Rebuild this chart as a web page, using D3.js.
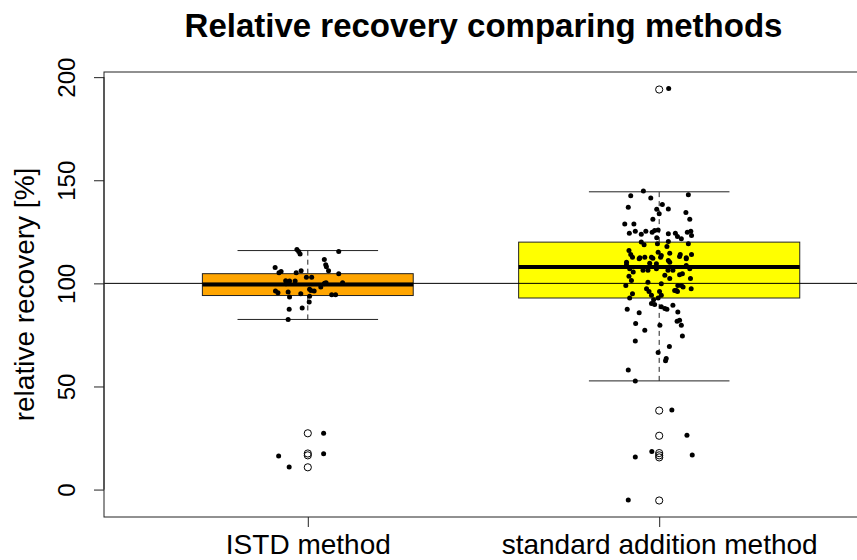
<!DOCTYPE html>
<html>
<head>
<meta charset="utf-8">
<script src="https://cdn.jsdelivr.net/npm/d3@7"></script>
<style>
  body { margin: 0; background: #fff; }
  text { font-family: "Liberation Sans", Arial, sans-serif; fill: #000; }
</style>
</head>
<body>
<div id="chart"></div>
<script>
// groups and box statistics: [lower whisker, Q1, median, Q3, upper whisker]
var groups = ["ISTD method", "standard addition method"];
var istdStats = [82.5, 94.1, 99.4, 104.7, 115.9];
var stdStats = [52.7, 92.9, 107.9, 120.0, 144.4];
var istdOutliers = [27.3, 17.5, 16.6, 10.8];
var stdOutliers = [194.0, 38.3, 26.1, 17.7, 16.6, 15.6, -5.3];
var yTicks = [0, 50, 100, 150, 200];
var refValue = 100;

// jittered raw points: [jittered group position, relative recovery]
var istdPoints = [
  [0.969,116.4],[0.974,115.5],[0.978,114.2],[1.088,115.5],[0.907,107.7],[0.918,105.2],[0.924,105.8],
  [1.047,111.6],[1.051,109.0],[1.053,108.1],[1.059,106.1],[0.967,105.2],[0.981,106.1],[1.088,104.7],
  [0.996,103.0],[1.011,103.0],[0.937,101.3],[0.948,101.1],[0.964,101.1],[0.938,99.8],[0.941,100.5],
  [1.005,97.2],[1.009,96.6],[1.018,96.3],[1.052,100.3],[1.047,99.8],[1.048,100.0],[1.099,100.3],
  [0.908,96.3],[0.915,95.5],[0.944,95.8],[0.948,93.4],[0.980,95.0],[1.068,94.5],[1.079,94.5],
  [1.005,93.7],[1.004,91.0],[0.947,87.4],[0.984,88.1],[0.944,82.5],[1.037,98.2],
  [0.917,16.3],[0.947,10.9],[1.045,27.3],[1.045,17.4]
];
var stdPoints = [
  [2.027,194.5],
  [1.955,144.8],[1.919,142.5],[1.976,141.4],[2.083,143.0],[1.912,136.9],[1.993,135.9],[2.009,138.3],
  [2.026,136.1],[2.000,133.8],[2.076,134.4],[2.087,131.1],[1.982,131.1],[1.902,128.8],[1.928,128.8],
  [1.915,124.3],[1.932,125.3],[1.949,123.8],[1.962,125.3],[1.980,124.8],[1.987,125.6],[1.997,125.9],
  [1.993,122.1],[2.026,124.0],[2.046,124.3],[2.052,122.7],[2.063,121.6],[2.080,124.8],[2.090,125.3],
  [2.092,123.2],[1.949,120.0],[1.957,118.7],[1.995,119.2],[2.026,120.3],[2.022,117.9],[2.083,119.2],
  [1.914,115.9],[1.919,114.0],[1.997,115.1],[2.030,114.6],[2.060,114.0],[2.092,114.0],[1.945,112.4],
  [1.959,112.7],[1.978,112.7],[2.006,113.5],[2.077,112.4],[1.924,112.7],[1.943,111.9],[1.982,112.2],
  [2.004,112.7],[2.026,111.1],[2.058,113.0],[2.077,111.9],[1.907,110.3],[1.992,109.5],[2.030,110.3],
  [2.077,108.7],[1.907,109.0],[1.916,107.1],[1.926,105.5],[1.954,106.3],[1.973,109.8],[1.992,107.1],
  [2.025,106.3],[1.968,106.3],[2.039,106.3],[2.016,103.9],[2.030,102.3],[2.058,104.2],[2.066,104.7],
  [2.087,107.1],[2.089,102.3],[1.914,103.4],[1.921,101.4],[1.905,99.0],[1.968,100.6],[2.006,99.8],
  [2.053,99.0],[2.063,99.0],[2.068,98.2],[2.091,97.4],[2.044,96.6],[2.049,96.6],[1.964,97.4],
  [1.971,96.1],[2.001,96.1],[1.924,95.0],[2.052,96.1],[2.006,94.2],[1.916,92.9],[1.978,94.2],
  [1.984,92.1],[1.997,92.9],[1.978,90.2],[1.987,89.7],[2.006,88.6],[2.016,87.8],[2.022,87.4],
  [2.039,89.4],[1.909,87.4],[1.943,85.8],[2.053,86.1],[2.058,82.1],[1.933,80.5],[2.002,79.7],
  [1.959,77.3],[2.051,81.6],[2.063,79.7],[2.066,74.5],[1.932,72.1],[2.029,69.4],[1.997,66.5],
  [2.020,63.6],[2.018,62.5],[1.912,58.0],[1.932,52.7],
  [2.036,38.6],[2.079,26.4],[1.979,18.5],[1.932,15.8],[2.094,16.8],[1.912,-5.0]
];

var boxes = [
  {stats: istdStats, outliers: istdOutliers, points: istdPoints, fill: "#FFA500", half: 0.3},
  {stats: stdStats, outliers: stdOutliers, points: stdPoints, fill: "#FFFF00", half: 0.4}
];

var width = 857, height = 560;
var plot = {left: 104, right: 863, top: 72, bottom: 517};

var svg = d3.select("#chart").append("svg")
    .attr("width", width)
    .attr("height", height);

var x = d3.scaleLinear().domain([0.42, 2.58]).range([plot.left, plot.right]);
var y = d3.scaleLinear().domain([-13.3, 202.5]).range([plot.bottom, plot.top]);

var g = svg.append("g");

// boxes
boxes.forEach(function(b, i) {
    var cx = i + 1;
    var s = b.stats;
    // whiskers (dashed)
    g.append("line")
        .attr("x1", x(cx)).attr("x2", x(cx))
        .attr("y1", y(s[3])).attr("y2", y(s[4]))
        .attr("stroke", "#222").attr("stroke-dasharray", "5,4");
    g.append("line")
        .attr("x1", x(cx)).attr("x2", x(cx))
        .attr("y1", y(s[0])).attr("y2", y(s[1]))
        .attr("stroke", "#222").attr("stroke-dasharray", "5,4");
    // staples
    [s[0], s[4]].forEach(function(v) {
        g.append("line")
            .attr("x1", x(cx - 0.2)).attr("x2", x(cx + 0.2))
            .attr("y1", y(v)).attr("y2", y(v))
            .attr("stroke", "#222");
    });
    g.append("rect")
        .attr("x", x(cx - b.half))
        .attr("y", y(s[3]))
        .attr("width", x(cx + b.half) - x(cx - b.half))
        .attr("height", y(s[1]) - y(s[3]))
        .attr("fill", b.fill)
        .attr("stroke", "#222");
    g.append("line")
        .attr("x1", x(cx - b.half)).attr("x2", x(cx + b.half))
        .attr("y1", y(s[2])).attr("y2", y(s[2]))
        .attr("stroke", "#000").attr("stroke-width", 4);
    g.selectAll(".out" + i)
        .data(b.outliers)
        .enter().append("circle")
        .attr("cx", x(cx))
        .attr("cy", function(d) { return y(d); })
        .attr("r", 3.6)
        .attr("fill", "none")
        .attr("stroke", "#000");
});

// reference line at 100 %
g.append("line")
    .attr("x1", plot.left).attr("x2", plot.right)
    .attr("y1", y(refValue)).attr("y2", y(refValue))
    .attr("stroke", "#000");

// jittered points
boxes.forEach(function(b, i) {
    g.selectAll(".pt" + i)
        .data(b.points)
        .enter().append("circle")
        .attr("cx", function(d) { return x(d[0]); })
        .attr("cy", function(d) { return y(d[1]); })
        .attr("r", 2.5)
        .attr("fill", "#000");
});

// plot frame
svg.append("rect")
    .attr("x", plot.left).attr("y", plot.top)
    .attr("width", plot.right - plot.left)
    .attr("height", plot.bottom - plot.top)
    .attr("fill", "none")
    .attr("stroke", "#222");

// y axis
var yAxis = svg.append("g")
    .attr("transform", "translate(" + plot.left + ",0)")
    .call(d3.axisLeft(y).tickValues(yTicks).tickSize(10).tickSizeOuter(0).tickFormat(d3.format("d")));
yAxis.select(".domain").attr("stroke", "#222").attr("d", "M0," + y(0) + "V" + y(200));
yAxis.selectAll(".tick line").attr("stroke", "#222");
yAxis.selectAll(".tick text")
    .attr("x", 0).attr("y", 0).attr("dy", null)
    .attr("transform", "translate(-29,0) rotate(-90)")
    .attr("text-anchor", "middle")
    .style("font-size", "24px");

// x axis
var xAxis = svg.append("g")
    .attr("transform", "translate(0," + plot.bottom + ")")
    .call(d3.axisBottom(x).tickValues([1, 2]).tickSize(10).tickFormat(function(d) { return groups[d - 1]; }));
xAxis.select(".domain").remove();
xAxis.selectAll(".tick line").attr("stroke", "#222");
xAxis.selectAll(".tick text")
    .attr("y", 37).attr("dy", null)
    .style("font-size", "28px");

// titles
svg.append("text")
    .attr("x", (plot.left + plot.right) / 2)
    .attr("y", 37)
    .attr("text-anchor", "middle")
    .style("font-size", "33px")
    .style("font-weight", "bold")
    .text("Relative recovery comparing methods");

svg.append("text")
    .attr("transform", "translate(34," + (plot.top + plot.bottom) / 2 + ") rotate(-90)")
    .attr("text-anchor", "middle")
    .style("font-size", "28px")
    .text("relative recovery [%]");
</script>
</body>
</html>
